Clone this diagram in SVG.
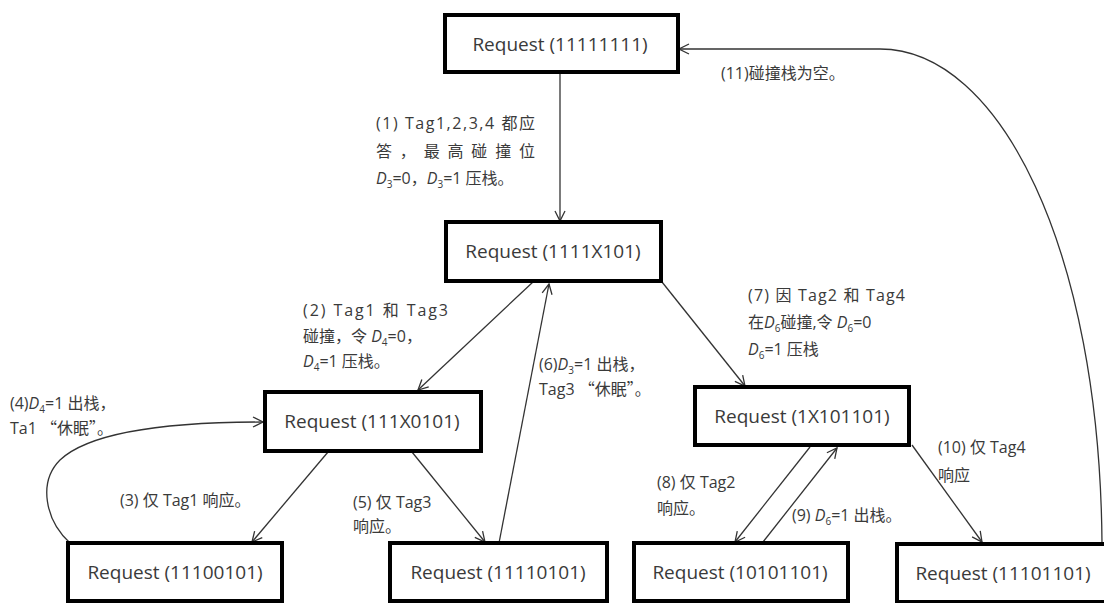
<svg xmlns="http://www.w3.org/2000/svg" width="1104" height="603" viewBox="0 0 1104 603">
<style>
.box{fill:#fff;stroke:#000;stroke-width:4}
.nt{font-family:"Open Sans","Liberation Sans",sans-serif;font-size:19px;fill:#3a3a3a;text-anchor:middle}
.lb{font-family:"Open Sans","Noto Sans CJK SC",sans-serif;font-size:16px;fill:#3a3a3a}
.cjk{font-family:"Noto Sans CJK SC",sans-serif}
.it{font-style:italic}
.edge{fill:none;stroke:#333;stroke-width:1.3;marker-end:url(#arr)}
</style>
<defs>
<marker id="arr" viewBox="0 0 12 12" refX="11" refY="6" markerWidth="12" markerHeight="12" markerUnits="userSpaceOnUse" orient="auto">
<path d="M1,1 L11,6 L1,11" fill="none" stroke="#333" stroke-width="1.3"/>
</marker>
</defs>
<rect width="1104" height="603" fill="#fff"/>
<g id="connectors">
<path class="edge" d="M560,72 L560,221"/>
<path class="edge" d="M533,282 L418,390"/>
<path class="edge" d="M499,543 L549,284"/>
<path class="edge" d="M662,282 L745,386"/>
<path class="edge" d="M328,452 L252,542"/>
<path class="edge" d="M412,452 L485,542"/>
<path class="edge" d="M70,543 C45,520 38,482 60,460 C92,430 180,422 263,422"/>
<path class="edge" d="M810,447 L735,542"/>
<path class="edge" d="M763,542 L837,448"/>
<path class="edge" d="M912,445 L982,542"/>
<path class="edge" d="M1102,544 C1100,250 1000,49 880,49 L679,49"/>
</g>
<g id="n1"><rect class="box" x="445" y="15" width="233" height="57"/><text class="nt" x="560" y="51">Request (11111111)</text></g>
<g id="n2"><rect class="box" x="446" y="222" width="215" height="59"/><text class="nt" x="553" y="258">Request (1111X101)</text></g>
<g id="n3"><rect class="box" x="265" y="392" width="216" height="59"/><text class="nt" x="372" y="428">Request (111X0101)</text></g>
<g id="n4"><rect class="box" x="695" y="387" width="214" height="58"/><text class="nt" x="802" y="423">Request (1X101101)</text></g>
<g id="n5"><rect class="box" x="68" y="543" width="214" height="58"/><text class="nt" x="175" y="579">Request (11100101)</text></g>
<g id="n6"><rect class="box" x="390" y="543" width="217" height="58"/><text class="nt" x="498" y="579">Request (11110101)</text></g>
<g id="n7"><rect class="box" x="634" y="543" width="214" height="58"/><text class="nt" x="740" y="579">Request (10101101)</text></g>
<g id="n8"><rect class="box" x="897" y="544" width="213" height="58"/><text class="nt" x="1003" y="580">Request (11101101)</text></g>
<g id="labels">
<text class="lb" x="376" y="129" textLength="159" lengthAdjust="spacing">(1) Tag1,2,3,4 都应</text>
<text class="lb" x="376" y="157" textLength="159" lengthAdjust="spacing">答，最高碰撞位</text>
<text class="lb" x="376" y="184"><tspan class="it">D</tspan><tspan font-size="10" dy="4">3</tspan><tspan dy="-4">=0，</tspan><tspan class="it">D</tspan><tspan font-size="10" dy="4">3</tspan><tspan dy="-4">=1 压栈。</tspan></text>
<text class="lb" x="721" y="79" font-size="17">(11)碰撞栈为空。</text>
<text class="lb" x="303" y="316" textLength="145" lengthAdjust="spacing">(2) Tag1 和 Tag3</text>
<text class="lb" x="303" y="342">碰撞，令 <tspan class="it">D</tspan><tspan font-size="10" dy="4">4</tspan><tspan dy="-4">=0，</tspan></text>
<text class="lb" x="303" y="367"><tspan class="it">D</tspan><tspan font-size="10" dy="4">4</tspan><tspan dy="-4">=1 压栈。</tspan></text>
<text class="lb" x="10" y="409">(4)<tspan class="it">D</tspan><tspan font-size="10" dy="4">4</tspan><tspan dy="-4">=1  出栈，</tspan></text>
<text class="lb" x="10" y="434">Ta1 <tspan class="cjk">“休眠”</tspan>。</text>
<text class="lb" x="539" y="370">(6)<tspan class="it">D</tspan><tspan font-size="10" dy="4">3</tspan><tspan dy="-4">=1 出栈，</tspan></text>
<text class="lb" x="539" y="395">Tag3 <tspan class="cjk">“休眠”</tspan>。</text>
<text class="lb" x="748" y="301" textLength="157" lengthAdjust="spacing">(7) 因 Tag2 和 Tag4</text>
<text class="lb" x="748" y="328">在<tspan class="it">D</tspan><tspan font-size="10" dy="4">6</tspan><tspan dy="-4">碰撞,令 </tspan><tspan class="it">D</tspan><tspan font-size="10" dy="4">6</tspan><tspan dy="-4">=0</tspan></text>
<text class="lb" x="748" y="355"><tspan class="it">D</tspan><tspan font-size="10" dy="4">6</tspan><tspan dy="-4">=1 压栈</tspan></text>
<text class="lb" x="120" y="506">(3)  仅 Tag1 响应。</text>
<text class="lb" x="353" y="508">(5)  仅 Tag3</text>
<text class="lb" x="353" y="532">响应。</text>
<text class="lb" x="657" y="488">(8)  仅 Tag2</text>
<text class="lb" x="657" y="514">响应。</text>
<text class="lb" x="792" y="521">(9) <tspan class="it">D</tspan><tspan font-size="10" dy="4">6</tspan><tspan dy="-4">=1 出栈。</tspan></text>
<text class="lb" x="938" y="453">(10)  仅 Tag4</text>
<text class="lb" x="938" y="481">响应</text>
</g>
</svg>
